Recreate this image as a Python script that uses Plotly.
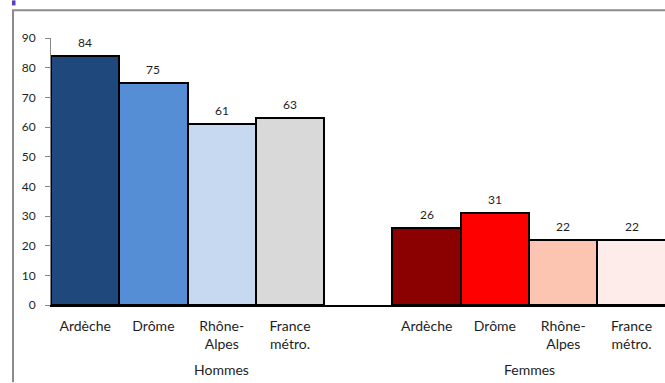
import plotly.graph_objects as go

# Data
groups = ["Hommes", "Femmes"]
zones = ["Ardèche", "Drôme", "Rhône-<br>Alpes", "France<br>métro."]
hommes = [84, 75, 61, 63]
femmes = [26, 31, 22, 22]
hommes_colors = ["#1F497D", "#558ED5", "#C6D9F1", "#D9D9D9"]
femmes_colors = ["#8B0000", "#FF0000", "#FBC5B1", "#FDECEA"]
y_ticks = list(range(0, 100, 10))

# Category slots: Hommes in 0..3, an empty slot at 4, Femmes in 5..8
x_h = [0, 1, 2, 3]
x_f = [5, 6, 7, 8]
xs = x_h + x_f
values = hommes + femmes
colors = hommes_colors + femmes_colors

W, H = 665, 383
L, T, B = 51, 37.7, 77.5
plot_w = W - L
plot_h = H - T - B

FONT = "Lato, Open Sans, sans-serif"
TXT = "#1E1E1E"

fig = go.Figure()
fig.add_trace(go.Bar(
    x=xs,
    y=values,
    width=1.0,
    marker=dict(color=colors, line=dict(color="#000000", width=2)),
    hoverinfo="skip",
    showlegend=False,
))


def px_x(p):
    return (p - L) / plot_w


def px_y(p):
    return (H - B - p) / plot_h


shapes = [
    # outer frame: top and left edges (the rest lies beyond the page)
    dict(type="line", xref="paper", yref="paper",
         x0=px_x(12), x1=px_x(665), y0=px_y(9.8), y1=px_y(9.8),
         line=dict(color="#8C8C8C", width=2), layer="below"),
    dict(type="line", xref="paper", yref="paper",
         x0=px_x(13), x1=px_x(13), y0=px_y(9.8), y1=px_y(383),
         line=dict(color="#8C8C8C", width=2), layer="below"),
    # small accent mark at the top-left corner
    dict(type="rect", xref="paper", yref="paper",
         x0=px_x(12), x1=px_x(15.5), y0=px_y(5), y1=px_y(0),
         line=dict(width=0), fillcolor="#5B3CC4"),
]

annotations = []
# value labels above each bar
for xi, v in zip(xs, values):
    annotations.append(dict(
        x=xi, xref="x", y=v, yref="y",
        text=str(v), showarrow=False, xanchor="center", yanchor="bottom",
        yshift=4,
        font=dict(family=FONT, size=12, color=TXT),
    ))
# group labels under the category labels
group_centers = [sum(x_h + [4]) / 5, sum(x_f) / 4]
for g, cx in zip(groups, group_centers):
    annotations.append(dict(
        x=cx, xref="x", y=px_y(370), yref="paper",
        text=g, showarrow=False, xanchor="center", yanchor="middle",
        font=dict(family=FONT, size=14, color=TXT),
    ))

fig.update_layout(
    width=W, height=H,
    margin=dict(l=L, r=0, t=T, b=B, pad=0),
    paper_bgcolor="white",
    plot_bgcolor="white",
    font=dict(family=FONT, color=TXT),
    shapes=shapes,
    annotations=annotations,
    bargap=0,
)

fig.update_xaxes(
    range=[-0.5, 8.49],
    tickmode="array",
    tickvals=xs,
    ticktext=zones + zones,
    ticks="",
    ticklabelstandoff=7,
    showgrid=False,
    zeroline=False,
    showline=True,
    linecolor="#000000",
    linewidth=2,
    tickfont=dict(family=FONT, size=14, color=TXT),
)

fig.update_yaxes(
    range=[0, 90],
    tickmode="array",
    tickvals=y_ticks,
    ticks="outside",
    ticklen=5,
    tickcolor="#868686",
    tickwidth=1,
    ticklabelstandoff=7,
    showgrid=False,
    zeroline=False,
    showline=True,
    linecolor="#868686",
    linewidth=1,
    tickfont=dict(family=FONT, size=12, color=TXT),
)

# keep the page itself from scrolling
page_css = (
    "document.documentElement.style.overflow='hidden';"
    "document.body.style.overflow='hidden';"
    "document.body.style.margin='0';"
)

fig.write_html("out.html", post_script=page_css)
